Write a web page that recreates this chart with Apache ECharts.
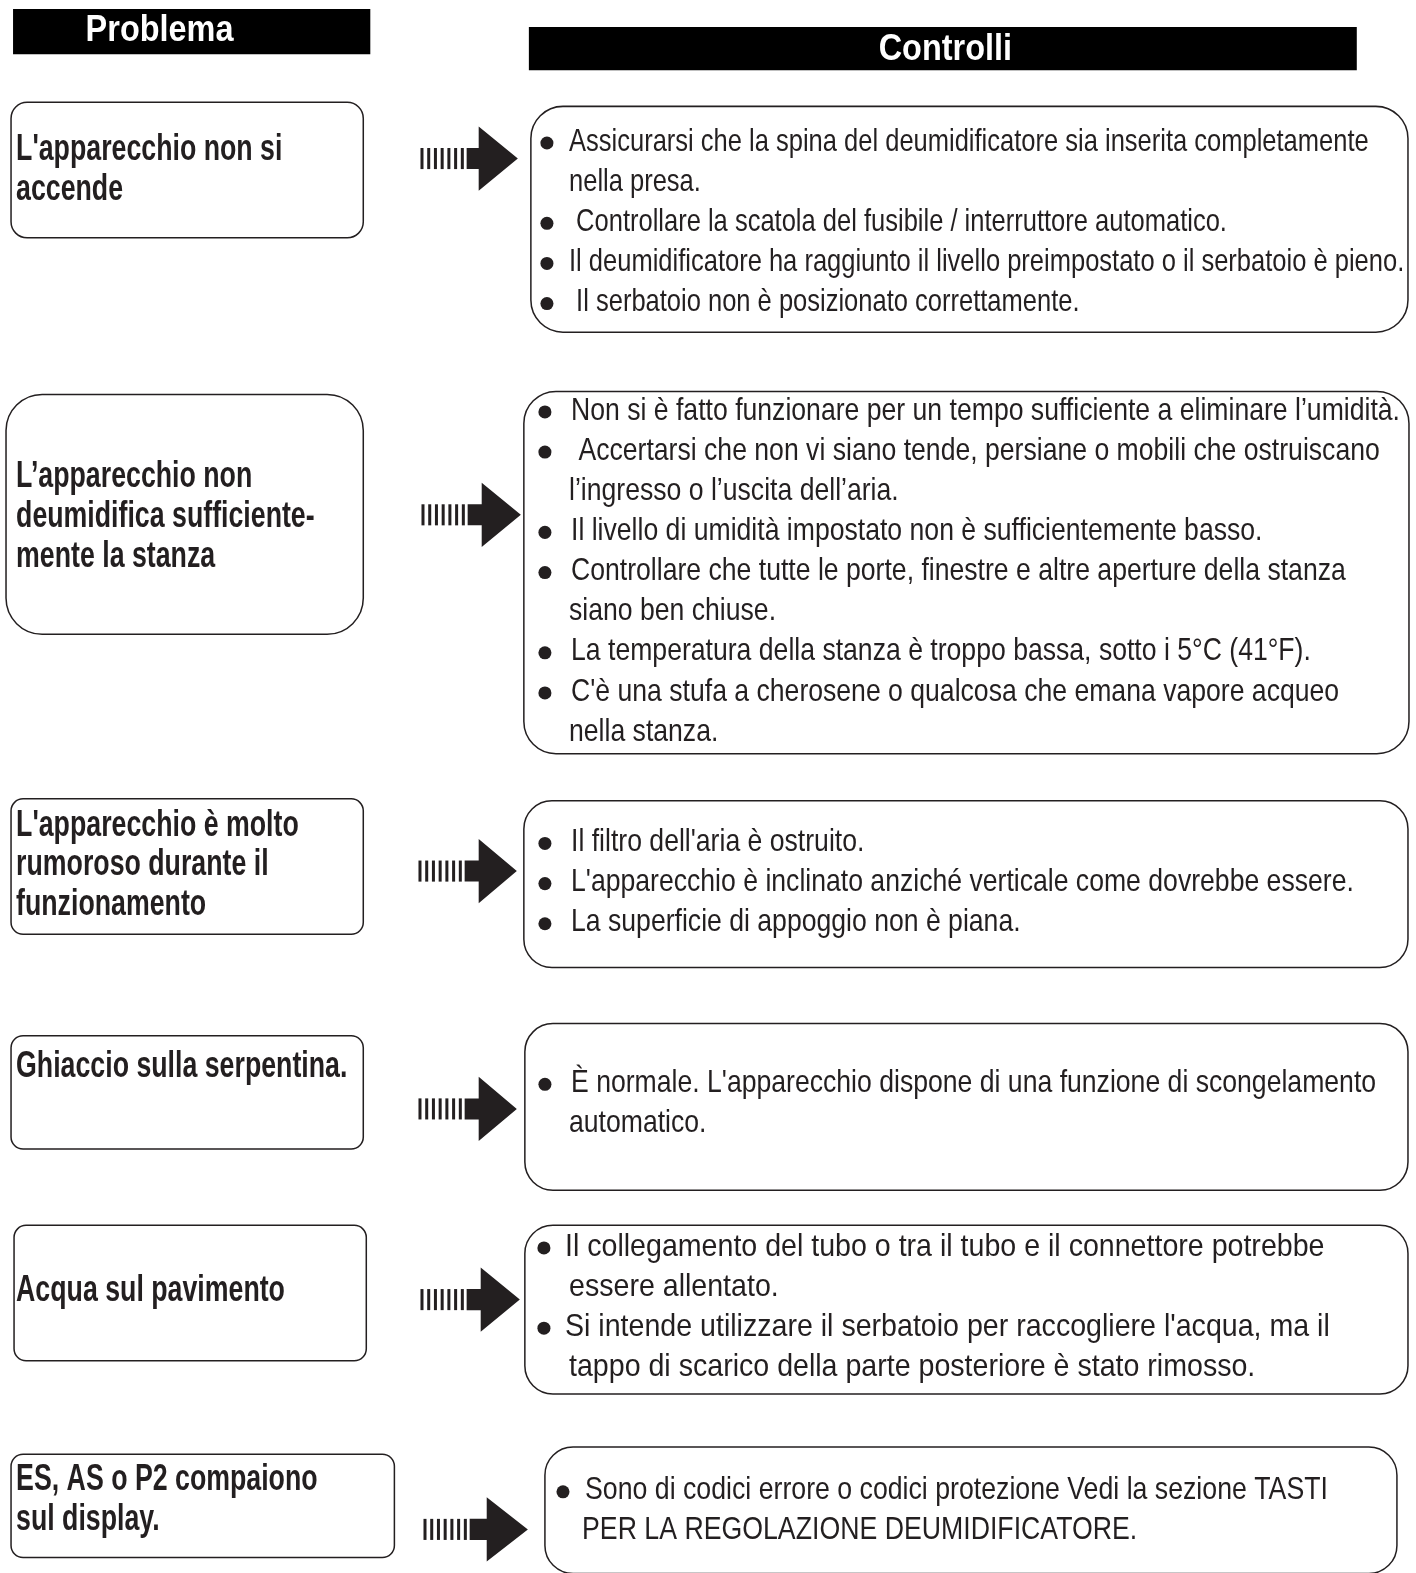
<!DOCTYPE html>
<html>
<head>
<meta charset="utf-8">
<script src="https://cdn.jsdelivr.net/npm/echarts@6/dist/echarts.min.js"></script>
<style>html,body{margin:0;padding:0;background:#fff}#main{width:1416px;height:1573px}</style>
</head>
<body>
<div id="main"></div>
<script>
// ---- DATA ----
const headers = ["Problema", "Controlli"];
const problems = [
  ["L'apparecchio non si", "accende"],
  ["L’apparecchio non", "deumidifica sufficiente-", "mente la stanza"],
  ["L'apparecchio è molto", "rumoroso durante il", "funzionamento"],
  ["Ghiaccio sulla serpentina."],
  ["Acqua sul pavimento"],
  ["ES, AS o P2 compaiono", "sul display."]
];
const checks1 = [
  ["Assicurarsi che la spina del deumidificatore sia inserita completamente", "nella presa."],
  [" Controllare la scatola del fusibile / interruttore automatico."],
  ["Il deumidificatore ha raggiunto il livello preimpostato o il serbatoio è pieno."],
  [" Il serbatoio non è posizionato correttamente."]
];
const checks2 = [
  ["Non si è fatto funzionare per un tempo sufficiente a eliminare l’umidità."],
  [" Accertarsi che non vi siano tende, persiane o mobili che ostruiscano", "l’ingresso o l’uscita dell’aria."],
  ["Il livello di umidità impostato non è sufficientemente basso."],
  ["Controllare che tutte le porte, finestre e altre aperture della stanza", "siano ben chiuse."],
  ["La temperatura della stanza è troppo bassa, sotto i 5°C (41°F)."],
  ["C'è una stufa a cherosene o qualcosa che emana vapore acqueo", "nella stanza."]
];
const checks3 = [
  ["Il filtro dell'aria è ostruito."],
  ["L'apparecchio è inclinato anziché verticale come dovrebbe essere."],
  ["La superficie di appoggio non è piana."]
];
const checks4 = [
  ["È normale. L'apparecchio dispone di una funzione di scongelamento", "automatico."]
];
const checks5 = [
  ["Il collegamento del tubo o tra il tubo e il connettore potrebbe", "essere allentato."],
  ["Si intende utilizzare il serbatoio per raccogliere l'acqua, ma il", "tappo di scarico della parte posteriore è stato rimosso."]
];
const checks6 = [
  ["Sono di codici errore o codici protezione Vedi la sezione TASTI", "PER LA REGOLAZIONE DEUMIDIFICATORE."]
];
const checks = [checks1, checks2, checks3, checks4, checks5, checks6];

// ---- LAYOUT ----
const INK = '#231f20';
const FONT = '"Liberation Sans", Arial, sans-serif';
const K = 1416 / 1411;
const headerBoxes = [[13, 9, 356, 45, 159, 30.5], [527, 27, 825, 43, 942, 50]];
const HEAD_SX = 0.874;
const PROB_SX = 0.72;
const leftBoxes = [
  // x, y, w, h, r, firstLineY
  [11, 102, 351, 135, 16, 149.5],
  [6, 393, 356, 239, 36, 475.5],
  [11, 796, 351, 135, 12, 822.5],
  [11, 1032, 351, 113, 12, 1062.5],
  [14, 1221, 351, 135, 12, 1286.5],
  [11, 1449, 382, 103, 12, 1474.5]
];
const rightBoxes = [
  // x, y, w, h, r, firstLineCenter, bulletX, textX, contX, fontSize, scaleX
  [529, 106, 874, 225, 32, 139, 545, 567, 567, 31, 0.82],
  [522, 390, 882, 361, 32, 407, 543, 569, 567, 31, 0.855],
  [522, 798, 881, 166, 28, 837, 543, 569, 567, 31, 0.855],
  [523, 1020, 880, 166, 28, 1077, 543, 569, 567, 31, 0.855],
  [523, 1221, 880, 168, 28, 1240, 542, 563, 567, 32, 0.89],
  [543, 1442, 849, 126, 28, 1483, 561, 583, 580, 31, 0.858]
];
const arrows = [
  // barStartX, cy, baseX, tipX
  [419, 158, 477, 516],
  [420, 513, 480, 519],
  [417, 868, 477, 515],
  [417, 1105, 477, 515],
  [419, 1295, 479, 518],
  [422, 1524, 485, 526]
];
const LINE = 40;

const g = [];
headerBoxes.forEach((h, i) => {
  g.push({type: 'rect', shape: {x: h[0], y: h[1], width: h[2], height: h[3]}, style: {fill: '#000'}});
  g.push({type: 'text', x: h[4], y: h[5], scaleX: HEAD_SX,
    style: {text: headers[i], font: 'bold 37px ' + FONT, fill: '#fff', textAlign: 'center', textVerticalAlign: 'middle'}});
});
leftBoxes.forEach((b, i) => {
  g.push({type: 'rect', shape: {x: b[0], y: b[1], width: b[2], height: b[3], r: b[4]},
    style: {fill: 'none', stroke: INK, lineWidth: 1.5}});
  problems[i].forEach((ln, j) => {
    g.push({type: 'text', x: 16, y: b[5] + j * 39.5, scaleX: PROB_SX,
      style: {text: ln, font: 'bold 37px ' + FONT, fill: INK, textAlign: 'left', textVerticalAlign: 'middle'}});
  });
});
arrows.forEach(a => {
  const [x0, cy, bx, tx] = a;
  for (let k = 0; k < 7; k++) {
    g.push({type: 'rect', shape: {x: x0 + k * 6.7, y: cy - 10.5, width: 3, height: 21}, style: {fill: INK}});
  }
  g.push({type: 'polygon', shape: {points: [
    [x0 + 46, cy - 10.5], [bx, cy - 10.5], [bx, cy - 32], [tx, cy], [bx, cy + 32], [bx, cy + 10.5], [x0 + 46, cy + 10.5]
  ]}, style: {fill: INK}});
});
rightBoxes.forEach((b, i) => {
  g.push({type: 'rect', shape: {x: b[0], y: b[1], width: b[2], height: b[3], r: b[4]},
    style: {fill: 'none', stroke: INK, lineWidth: 1.5}});
  let row = 0;
  checks[i].forEach(item => {
    item.forEach((ln, j) => {
      const c = b[5] + row * LINE;
      if (j === 0) {
        g.push({type: 'circle', shape: {cx: b[6], cy: c + 3.5, r: 6.5}, style: {fill: INK}});
      }
      g.push({type: 'text', x: j === 0 ? b[7] : b[8], y: c + 2.5, scaleX: b[10],
        style: {text: ln, font: b[9] + 'px ' + FONT, fill: INK, textAlign: 'left', textVerticalAlign: 'middle'}});
      row++;
    });
  });
});

const chart = echarts.init(document.getElementById('main'), null, {renderer: 'canvas'});
chart.setOption({
  backgroundColor: '#fff', animation: false,
  graphic: {elements: [{type: 'group', x: 0, y: 0, scaleX: K, scaleY: K, children: g}]}
});
</script>
</body>
</html>
